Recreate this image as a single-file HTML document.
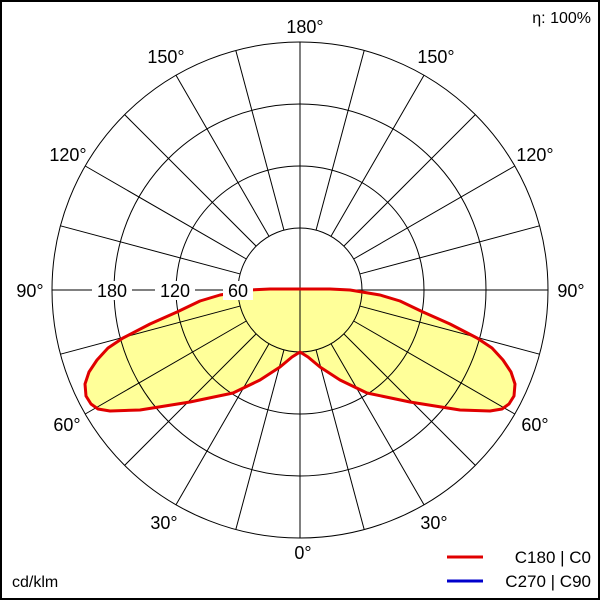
<!DOCTYPE html>
<html><head><meta charset="utf-8"><style>
html,body{margin:0;padding:0;background:#fff}
svg{display:block}
text{font-family:"Liberation Sans",sans-serif;fill:#000}
</style></head><body>
<svg width="600" height="600" viewBox="0 0 600 600" xmlns="http://www.w3.org/2000/svg">
<rect x="1" y="1" width="598" height="598" fill="#fff" stroke="#000" stroke-width="2"/>
<defs>
<path id="curve" d="M300,289 L270,289 L250,290 L220,295 L200,301 L177,312 L150,324 L123,338 L108,348 L97,360 L89,372 L85,384 L86,396 L91,404 L98,409 L110,411 L140,410 L190,402 L233,393 L260,380 L280,367 L292,357 L300,352 L308,357 L320,367 L340,380 L367,393 L410,402 L460,410 L490,411 L502,409 L509,404 L514,396 L515,384 L511,372 L503,360 L492,348 L477,338 L450,324 L423,312 L400,301 L380,295 L350,290 L330,289 Z"/>
</defs>
<use href="#curve" fill="#ffff99"/>
<g fill="none" stroke="#000" stroke-width="1">
<circle cx="300" cy="290" r="62"/>
<circle cx="300" cy="290" r="124"/>
<circle cx="300" cy="290" r="186"/>
<circle cx="300" cy="290" r="248"/>
<line x1="300" y1="42" x2="300" y2="538"/>
<line x1="52" y1="290" x2="548" y2="290"/>
<g id="rl">
<line x1="316.05" y1="349.89" x2="364.19" y2="529.55"/>
<line x1="331" y1="343.69" x2="424" y2="504.78"/>
<line x1="343.84" y1="333.84" x2="475.36" y2="465.36"/>
<line x1="353.69" y1="321" x2="514.78" y2="414"/>
<line x1="359.89" y1="306.05" x2="539.55" y2="354.19"/>
<line x1="359.89" y1="273.95" x2="539.55" y2="225.81"/>
<line x1="353.69" y1="259" x2="514.78" y2="166"/>
<line x1="343.84" y1="246.16" x2="475.36" y2="114.64"/>
<line x1="331" y1="236.31" x2="424" y2="75.22"/>
<line x1="316.05" y1="230.11" x2="364.19" y2="50.45"/>
</g>
<use href="#rl" transform="translate(600,0) scale(-1,1)"/>
</g>
<use href="#curve" fill="none" stroke="#e00000" stroke-width="3" stroke-linejoin="round"/>
<g font-size="18">
<rect x="223" y="281" width="30" height="19" fill="#fff"/>
<rect x="155" y="281" width="40" height="19" fill="#fff"/>
<rect x="92" y="281" width="40" height="19" fill="#fff"/>
<text x="238" y="297" text-anchor="middle">60</text>
<text x="175" y="297" text-anchor="middle">120</text>
<text x="112" y="297" text-anchor="middle">180</text>
<text x="305" y="33" text-anchor="middle">180°</text>
<text x="166" y="63" text-anchor="middle">150°</text>
<text x="436" y="63" text-anchor="middle">150°</text>
<text x="68" y="161" text-anchor="middle">120°</text>
<text x="535" y="161" text-anchor="middle">120°</text>
<text x="30" y="297" text-anchor="middle">90°</text>
<text x="571" y="297" text-anchor="middle">90°</text>
<text x="67" y="431" text-anchor="middle">60°</text>
<text x="535" y="431" text-anchor="middle">60°</text>
<text x="164" y="529" text-anchor="middle">30°</text>
<text x="434" y="529" text-anchor="middle">30°</text>
<text x="303" y="559" text-anchor="middle">0°</text>
</g>
<text x="591" y="23" font-size="16" text-anchor="end">η: 100%</text>
<text x="12" y="587" font-size="16">cd/klm</text>
<line x1="447" y1="557" x2="483" y2="557" stroke="#e00000" stroke-width="3"/>
<line x1="447" y1="581" x2="483" y2="581" stroke="#0000cc" stroke-width="3"/>
<text x="591" y="563" font-size="17" text-anchor="end">C180 | C0</text>
<text x="591" y="587" font-size="17" text-anchor="end">C270 | C90</text>
</svg>
</body></html>
